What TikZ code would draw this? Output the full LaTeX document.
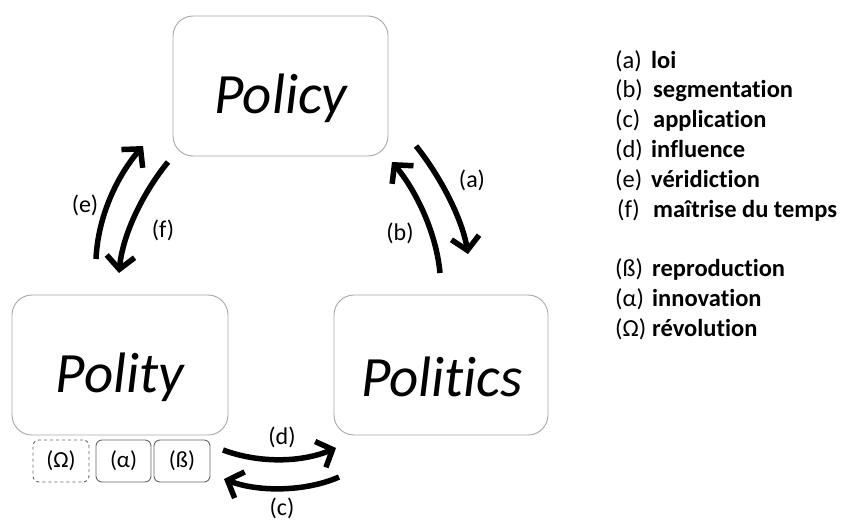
\documentclass[tikz,border=0pt]{standalone}
\usepackage{fontspec}
\setmainfont[Ligatures={NoCommon}]{Carlito}
\usetikzlibrary{arrows.meta}
\tikzset{
  bigbox/.style={draw=black!35, line width=0.9pt, rounded corners=20pt, inner sep=0pt},
  bigtext/.style={font=\fontsize{57}{60}\selectfont\itshape},
  smallbox/.style={draw=black!60, line width=0.9pt, rounded corners=6pt, inner sep=0pt, minimum width=55pt, minimum height=42pt, font=\fontsize{23}{25}\selectfont},
  dashbox/.style={smallbox, dashed, draw=black!60},
  bigarrow/.style={line width=5.5pt, -{Straight Barb[length=13pt,width=28pt]}},
  lab/.style={font=\fontsize{24}{26}\selectfont, inner sep=0pt},
  leglab/.style={font=\fontsize{24.5}{26}\selectfont, anchor=base west, inner sep=0pt},
  legterm/.style={font=\fontsize{24.5}{26}\selectfont\bfseries, anchor=base west, inner sep=0pt},
}
\begin{document}
\begin{tikzpicture}[x=1pt,y=-1pt]
\useasboundingbox (0,0) rectangle (854,522);
% main boxes
\node[bigbox, minimum width=215pt, minimum height=140pt] (policy) at (280.5,86) {};
\node[bigtext] at (281,98) {Policy};
\node[bigbox, minimum width=216pt, minimum height=140pt] (polity) at (120,365) {};
\node[bigtext] at (120,377) {Polity};
\node[bigbox, minimum width=214pt, minimum height=140pt] (politics) at (441,365) {};
\node[bigtext] at (442,377) {Politics};
% small boxes
\node[dashbox, minimum width=56pt] (omega) at (61,461) {(Ω)};
\node[smallbox] (alpha) at (123.5,461) {(α)};
\node[smallbox, minimum width=56pt] (beta) at (182,461) {(ß)};
% arrow endpoints
\coordinate (dS) at (223,450); \coordinate (dE) at (336,448);
\coordinate (cS) at (339,477); \coordinate (cE) at (224,479);
\coordinate (eS) at (96,259);  \coordinate (eE) at (143,146);
\coordinate (fS) at (168,162); \coordinate (fE) at (119,273);
\coordinate (aS) at (416,146); \coordinate (aE) at (468,254);
\coordinate (bS) at (440,273); \coordinate (bE) at (392,162);
\draw[bigarrow] (dS) .. controls (258,463) and (300,463) .. (dE);
\draw[bigarrow] (cS) .. controls (305,492) and (258,492) .. (cE);
\draw[bigarrow] (eS) .. controls (98,215) and (118,175) .. (eE);
\draw[bigarrow] (fS) .. controls (145,190) and (123,232) .. (fE);
\draw[bigarrow] (aS) .. controls (440,176) and (462,218) .. (aE);
\draw[bigarrow] (bS) .. controls (436,230) and (414,188) .. (bE);
% arrow labels
\node[lab] (la) at (472,180) {(a)};
\node[lab] (lb) at (400,233) {(b)};
\node[lab] (lc) at (282,508) {(c)};
\node[lab] (ld) at (282,437) {(d)};
\node[lab] (le) at (85,205) {(e)};
\node[lab] (lf) at (163,230) {(f)};
% legend
\node[leglab] (ka) at (615,68) {(a)};  \node[legterm] (ta) at (651,68) {loi};
\node[leglab] (kb) at (615,97) {(b)};  \node[legterm] (tb) at (653,97) {segmentation};
\node[leglab] (kc) at (615,127) {(c)}; \node[legterm] (tc) at (653,127) {application};
\node[leglab] (kd) at (615,157) {(d)}; \node[legterm] (td) at (651,157) {influence};
\node[leglab] (ke) at (615,187) {(e)}; \node[legterm] (te) at (651,187) {véridiction};
\node[leglab] (kf) at (617,217) {(f)}; \node[legterm] (tf) at (653,217) {maîtrise du temps};
\node[leglab] (kbeta) at (615,276) {(ß)};  \node[legterm] (tbeta) at (652,276) {reproduction};
\node[leglab] (kalpha) at (615,306) {(α)}; \node[legterm] (talpha) at (652,306) {innovation};
\node[leglab] (komega) at (615,336) {(Ω)}; \node[legterm] (tomega) at (652,336) {révolution};
\end{tikzpicture}
\end{document}
